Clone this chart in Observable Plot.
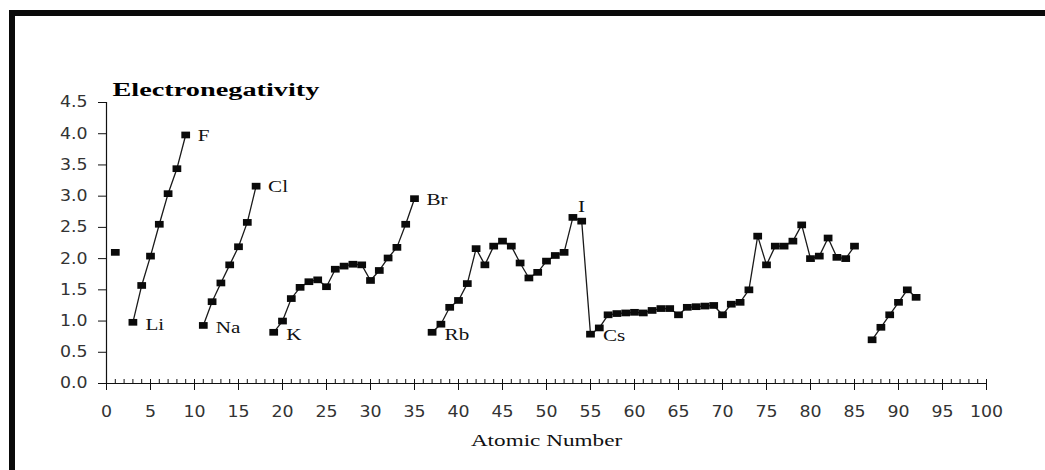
<!DOCTYPE html>
<html>
<head>
<meta charset="utf-8">
<script src="https://cdn.jsdelivr.net/npm/d3@7"></script>
<script src="https://cdn.jsdelivr.net/npm/@observablehq/plot@0.6"></script>
<style>
  body { margin: 0; background: #fff; }
  #wrap { position: relative; width: 1045px; height: 470px; overflow: hidden; background: #fff; }
  #frame { position: absolute; left: 9px; top: 10px; width: 1100px; height: 500px;
           border-left: 6px solid #0a0a0a; border-top: 6px solid #0a0a0a; }
  #chart { position: absolute; left: 0; top: 0; }
</style>
</head>
<body>
<div id="wrap"><div id="frame"></div><div id="chart"></div></div>
<script>
// ---- data ----
const atomicNumber = [
  1,
  3, 4, 5, 6, 7, 8, 9,
  11, 12, 13, 14, 15, 16, 17,
  19, 20, 21, 22, 23, 24, 25, 26, 27, 28, 29, 30, 31, 32, 33, 34, 35,
  37, 38, 39, 40, 41, 42, 43, 44, 45, 46, 47, 48, 49, 50, 51, 52, 53, 54,
  55, 56, 57, 58, 59, 60, 61, 62, 63, 64, 65, 66, 67, 68, 69, 70, 71, 72, 73, 74, 75, 76, 77, 78, 79, 80, 81, 82, 83, 84, 85,
  87, 88, 89, 90, 91, 92
];
const electronegativity = [
  2.10,
  0.98, 1.57, 2.04, 2.55, 3.04, 3.44, 3.98,
  0.93, 1.31, 1.61, 1.90, 2.19, 2.58, 3.16,
  0.82, 1.00, 1.36, 1.54, 1.63, 1.66, 1.55, 1.83, 1.88, 1.91, 1.90, 1.65, 1.81, 2.01, 2.18, 2.55, 2.96,
  0.82, 0.95, 1.22, 1.33, 1.60, 2.16, 1.90, 2.20, 2.28, 2.20, 1.93, 1.69, 1.78, 1.96, 2.05, 2.10, 2.66, 2.60,
  0.79, 0.89, 1.10, 1.12, 1.13, 1.14, 1.13, 1.17, 1.20, 1.20, 1.10, 1.22, 1.23, 1.24, 1.25, 1.10, 1.27, 1.30, 1.50, 2.36, 1.90, 2.20, 2.20, 2.28, 2.54, 2.00, 2.04, 2.33, 2.02, 2.00, 2.20,
  0.70, 0.90, 1.10, 1.30, 1.50, 1.38
];
const labelNames = ["Li", "F", "Na", "Cl", "K", "Br", "Rb", "I", "Cs"];
const labelZ     = [3, 9, 11, 17, 19, 35, 37, 53, 55];
const labelKind  = ["low", "high", "low", "high", "low", "high", "low", "top", "low"];
const yTicks = [0, 0.5, 1, 1.5, 2, 2.5, 3, 3.5, 4, 4.5];
const xTicks = [0, 5, 10, 15, 20, 25, 30, 35, 40, 45, 50, 55, 60, 65, 70, 75, 80, 85, 90, 95, 100];
const xMinorTicks = d3.range(0, 101, 1);
const titleText = "Electronegativity";
const xLabelText = "Atomic Number";

// ---- tables ----
let run = 0;
const points = atomicNumber.map((z, i) => {
  if (i > 0 && z - atomicNumber[i - 1] > 1) run++;
  return {z, en: electronegativity[i], run};
});
const enByZ = new Map(points.map(p => [p.z, p.en]));
const labels = labelNames.map((name, i) => ({name, z: labelZ[i], en: enByZ.get(labelZ[i]), kind: labelKind[i]}));
const lab = k => labels.filter(d => d.kind === k);

const serif = "'Liberation Serif', 'Times New Roman', serif";
const ink = "#111";

const chart = Plot.plot({
  width: 1045,
  height: 470,
  marginLeft: 106,
  marginRight: 59,
  marginTop: 102,
  marginBottom: 87,
  x: {domain: [0, 100]},
  y: {domain: [0, 4.5]},
  style: {fontFamily: "'DejaVu Sans', sans-serif", fontSize: "15.5px", background: "transparent", color: ink},
  marks: [
    Plot.ruleX([0], {stroke: ink, strokeWidth: 1.2}),
    Plot.ruleY([0], {stroke: ink, strokeWidth: 1.2}),
    Plot.axisY({ticks: yTicks, tickFormat: d => d.toFixed(1), tickSize: 8, tickPadding: 11, label: null, stroke: ink, fill: "#333"}),
    Plot.axisX({ticks: xTicks, tickSize: 7, tickPadding: 15, label: null, stroke: ink, fill: "#333"}),
    Plot.axisX({ticks: xMinorTicks, tickSize: -4, text: null, label: null, stroke: ink}),
    Plot.line(points, {x: "z", y: "en", z: "run", stroke: "#1a1a1a", strokeWidth: 1.3}),
    Plot.dot(points, {x: "z", y: "en", symbol: "square", r: 4.4, fill: "#0a0a0a", stroke: null}),
    Plot.text(lab("low"), {x: "z", y: "en", text: "name", textAnchor: "start", dx: 12.5, dy: 2, fontFamily: serif, fontSize: 16.5, fill: ink}),
    Plot.text(lab("high"), {x: "z", y: "en", text: "name", textAnchor: "start", dx: 12, dy: 1, fontFamily: serif, fontSize: 16.5, fill: ink}),
    Plot.text(lab("top"), {x: "z", y: "en", text: "name", textAnchor: "start", dx: 5, dy: -11, fontFamily: serif, fontSize: 16.5, fill: ink}),
    Plot.text([titleText], {frameAnchor: "top-left", textAnchor: "start", dx: 6, dy: -20, fontFamily: serif, fontWeight: "bold", fontSize: 19, fill: "#000"}),
    Plot.text([xLabelText], {frameAnchor: "bottom", dy: 62, fontFamily: serif, fontSize: 16, fill: ink})
  ]
});
document.getElementById("chart").appendChild(chart);

// horizontal stretch of the glyphs to mimic the reference's wide rendering
const stretch = (el, sx, sy = 1) => {
  let t = el.getAttribute("transform");
  if (!t) {
    const x = el.getAttribute("x") || 0, y = el.getAttribute("y") || 0;
    el.removeAttribute("x"); el.removeAttribute("y");
    t = `translate(${x},${y})`;
  }
  el.setAttribute("transform", `${t} scale(${sx},${sy})`);
};
chart.querySelectorAll("text").forEach(el => {
  const s = el.textContent;
  if (s === titleText) stretch(el, 1.49);
  else if (s === xLabelText) stretch(el, 1.45);
  else if (labelNames.includes(s)) stretch(el, 1.28);
  else stretch(el, 1.12);
});
chart.querySelectorAll('g[aria-label="dot"] path').forEach(el => stretch(el, 1.12, 0.86));
</script>
</body>
</html>
